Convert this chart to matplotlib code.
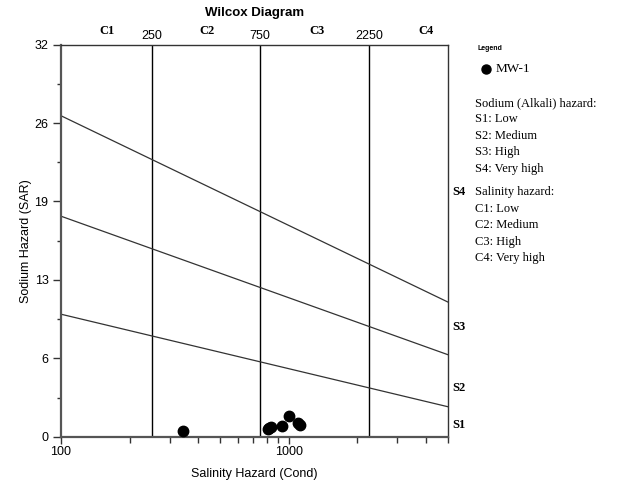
import numpy as np
import matplotlib
matplotlib.use("Agg")
import matplotlib.pyplot as plt
from matplotlib.transforms import blended_transform_factory

# ---- data ----
cond = [345, 811, 822, 839, 935, 1000, 1100, 1118]
sar = [0.47, 0.62, 0.70, 0.77, 0.90, 1.71, 1.14, 0.95]
series_name = "MW-1"

cond_ends = [100, 5000]
s1_s2 = [10.0, 2.45]
s2_s3 = [18.0, 6.7]
s3_s4 = [26.2, 11.0]

class_bounds = [250, 750, 2250]
class_bound_labels = ["250", "750", "2250"]
c_labels = ["C1", "C2", "C3", "C4"]
c_label_pos = [160, 440, 1330, 4000]
s_labels = ["S1", "S2", "S3", "S4"]
s_label_pos = [0.96, 3.98, 8.96, 20.0]

ytick_vals = list(np.linspace(0, 32, 6))
legend_lines = ["Sodium (Alkali) hazard:", "S1: Low", "S2: Medium", "S3: High", "S4: Very high"]
legend_lines2 = ["Salinity hazard:", "C1: Low", "C2: Medium", "C3: High", "C4: Very high"]

# ---- figure ----
W, H = 617, 484
fig = plt.figure(figsize=(W / 100, H / 100), dpi=100)
ax = fig.add_axes([61 / W, 1 - 436.7 / H, (447.7 - 61) / W, (436.7 - 44.7) / H])

ax.set_xscale("log")
ax.set_xlim(cond_ends[0], cond_ends[1])
ax.set_ylim(0, 32)

sans = "Liberation Sans"
serif = "Liberation Serif"

# boundaries
for v in class_bounds:
    ax.axvline(v, color="black", lw=1.0, zorder=2)
for ys in (s1_s2, s2_s3, s3_s4):
    ax.plot(cond_ends, ys, color="#333333", lw=0.9, zorder=2)

ax.plot(cond, sar, "o", color="black", ms=7.5, zorder=3, clip_on=False)

# spines
for s in ("left", "bottom"):
    ax.spines[s].set_color("#555555")
    ax.spines[s].set_linewidth(1.6)
for s in ("top", "right"):
    ax.spines[s].set_color("#333333")
    ax.spines[s].set_linewidth(1.0)

# ticks
ax.set_yticks(ytick_vals)
ax.set_yticklabels([f"{round(v)}" for v in ytick_vals], fontname=sans, fontsize=9)
ax.set_yticks([(a + b) / 2 for a, b in zip(ytick_vals[:-1], ytick_vals[1:])], minor=True)
ax.set_xticks([100, 1000])
ax.set_xticklabels(["100", "1000"], fontname=sans, fontsize=9)
ax.tick_params(axis="y", which="major", length=6, width=1, color="#333333", pad=3)
ax.tick_params(axis="y", which="minor", length=3, width=1, color="#333333")
ax.tick_params(axis="x", which="major", length=5, width=1, color="#333333", pad=2)
ax.tick_params(axis="x", which="minor", length=4, width=1, color="#333333")
ax.tick_params(top=False, right=False)

ax.set_xlabel("Salinity Hazard (Cond)", fontname=sans, fontsize=9, labelpad=7)
ax.set_ylabel("Sodium Hazard (SAR)", fontname=sans, fontsize=9, labelpad=2)

# top labels
tr = blended_transform_factory(ax.transData, ax.transAxes)
for v, lab in zip(class_bounds, class_bound_labels):
    ax.text(v, 1.008, lab, transform=tr, ha="center", va="bottom", fontname=sans, fontsize=9)
for v, lab in zip(c_label_pos, c_labels):
    ax.text(v, 1.02, lab, transform=tr, ha="center", va="bottom", fontname=serif,
            fontweight="bold", fontsize=9)
fig.text((61 + 447.7) / 2 / W, 1 - 13 / H, "Wilcox Diagram", ha="center", va="center",
         fontname=sans, fontweight="bold", fontsize=9.5)

# S labels on the right
tr2 = blended_transform_factory(ax.transAxes, ax.transData)
for v, lab in zip(s_label_pos, s_labels):
    ax.text(1.012, v, lab, transform=tr2, ha="left", va="center", fontname=serif,
            fontweight="bold", fontsize=9)

# legend area
fig.text(477 / W, 1 - 48 / H, "Legend", fontname=sans, fontweight="bold", fontsize=5,
         ha="left", va="center")
fig.lines.append(plt.Line2D([486 / W], [1 - 69 / H], marker="o", color="black", ms=6.5,
                            transform=fig.transFigure))
fig.text(496 / W, 1 - 69 / H, series_name, fontname=serif, fontsize=9.5, ha="left", va="center")

y0 = 103
for i, t in enumerate(legend_lines):
    fig.text(475 / W, 1 - (y0 + i * 16.5) / H, t, fontname=serif, fontsize=9,
             ha="left", va="center")
y1 = 192
for i, t in enumerate(legend_lines2):
    fig.text(475 / W, 1 - (y1 + i * 16.5) / H, t, fontname=serif, fontsize=9,
             ha="left", va="center")

fig.savefig("out.png", dpi=100)
